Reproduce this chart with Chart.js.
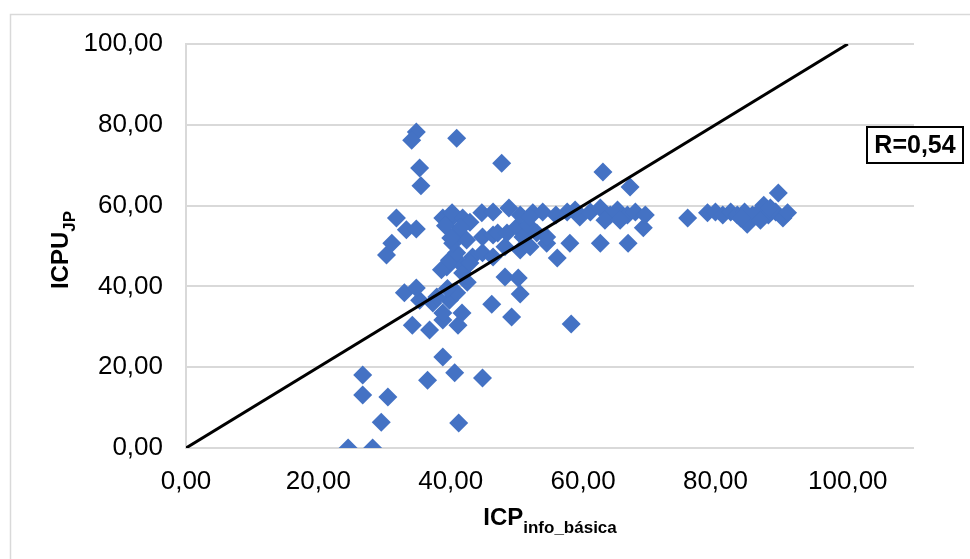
<!DOCTYPE html>
<html>
<head>
<meta charset="utf-8">
<script src="https://cdn.jsdelivr.net/npm/chart.js@4.4.0/dist/chart.umd.min.js"></script>
<style>
  html, body { margin: 0; padding: 0; background: #fff; }
  #wrap { width: 970px; height: 559px; position: relative; }
</style>
</head>
<body>
<div id="wrap"><canvas id="chart"></canvas></div>
<script>
// ICP_info_básica (x) and ICPU_JP (y)
const icpInfo = [
  24.5, 28.2, 26.7, 26.7, 30.5, 29.5, 36.5, 38.8, 40.6, 44.8, 41.2,
  34.2, 36.8, 41.1, 38.8, 41.7, 38.8, 35.3, 37.3, 33.0, 34.8, 39.8, 40.9, 46.2, 49.2, 58.2,
  48.2, 50.2, 50.5, 39.4, 41.4, 43.3, 38.6, 39.8, 40.9, 41.8, 42.9, 44.8, 46.4, 48.2, 50.5,
  52.0, 56.1, 30.3, 31.1, 33.3, 34.8, 40.3, 40.9, 42.4, 44.8, 46.4, 47.1, 48.5, 50.0, 50.9,
  51.7, 53.0, 54.5, 54.5, 58.0, 62.6, 66.8, 69.1, 31.8, 38.8, 39.8, 40.2, 41.8, 44.7, 46.4,
  48.8, 50.5, 52.4, 53.9, 57.6, 59.5, 61.1, 62.6, 64.1, 65.2, 66.7, 67.9, 69.4, 55.9, 58.8,
  63.3, 65.6, 42.9, 52.0, 34.8, 34.1, 40.9, 35.3, 35.5, 47.7, 63.0, 67.1, 75.8, 78.8, 80.0,
  81.1, 82.3, 83.3, 84.4, 84.8, 85.6, 86.5, 87.3, 88.0, 89.1, 89.5, 90.2, 90.9, 83.8, 86.8,
  88.3, 37.9, 39.5, 42.5, 40.0, 41.5, 39.2
];
const icpuJp = [
  0.0, 0.0, 18.1, 13.1, 12.6, 6.4, 16.8, 22.5, 18.6, 17.3, 6.2,
  30.4, 29.2, 30.4, 31.7, 33.4, 33.4, 36.6, 35.9, 38.4, 39.6, 36.6, 38.4, 35.6, 32.4, 30.7,
  42.3, 42.1, 38.1, 44.8, 45.8, 47.3, 44.1, 46.5, 48.3, 43.3, 45.8, 48.3, 47.3, 49.8, 49.0,
  49.8, 47.0, 47.8, 50.7, 54.0, 54.2, 50.7, 53.2, 51.5, 52.2, 52.7, 53.2, 53.2, 54.7, 52.2,
  55.2, 53.2, 50.7, 52.2, 50.7, 50.7, 50.7, 54.5, 56.9, 56.9, 56.4, 58.2, 56.9, 58.2, 58.4,
  59.4, 57.7, 58.2, 58.4, 58.4, 57.2, 58.4, 59.4, 57.7, 58.9, 57.7, 58.4, 57.7, 57.7, 58.9,
  56.4, 56.4, 55.9, 57.2, 78.2, 76.2, 76.7, 69.3, 64.9, 70.5, 68.3, 64.6, 56.9, 58.2, 58.4,
  57.7, 58.4, 57.7, 58.4, 55.4, 57.7, 58.4, 60.1, 57.7, 58.4, 63.1, 56.9, 58.2, 56.9, 56.4,
  59.4, 37.4, 39.5, 41.0, 52.0, 54.5, 55.0
];
const lineX = [0, 100];
const lineY = [0, 100];
const xTicks = [0, 20, 40, 60, 80, 100];
const yTicks = [0, 20, 40, 60, 80, 100];
const xTitle = ["ICP", "info_básica"];
const yTitle = ["ICPU", "JP"];
const rLabel = "R=0,54";

const FONT = '"Liberation Sans", Arial, sans-serif';
const fmt = v => Number(v).toFixed(2).replace('.', ',');

const extras = {
  id: 'extras',
  beforeDraw(chart) {
    const ctx = chart.ctx;
    ctx.save();
    ctx.fillStyle = '#fff';
    ctx.fillRect(0, 0, chart.width, chart.height);
    ctx.strokeStyle = '#d9d9d9';
    ctx.lineWidth = 1.5;
    ctx.strokeRect(10.5, 14.5, chart.width + 10, chart.height + 10);
    ctx.restore();
  },
  afterDraw(chart) {
    const ctx = chart.ctx;
    const a = chart.chartArea;
    ctx.save();
    ctx.fillStyle = '#000';
    ctx.textBaseline = 'alphabetic';
    ctx.textAlign = 'left';

    // x axis title with subscript
    ctx.font = 'bold 24px ' + FONT;
    const xw1 = ctx.measureText(xTitle[0]).width;
    ctx.font = 'bold 17px ' + FONT;
    const xw2 = ctx.measureText(xTitle[1]).width;
    let x0 = (a.left + a.right) / 2 - (xw1 + xw2) / 2;
    ctx.font = 'bold 24px ' + FONT;
    ctx.fillText(xTitle[0], x0, 525);
    ctx.font = 'bold 17px ' + FONT;
    ctx.fillText(xTitle[1], x0 + xw1, 533);

    // y axis title with subscript, rotated
    ctx.save();
    ctx.translate(68, (a.top + a.bottom) / 2 + 4);
    ctx.rotate(-Math.PI / 2);
    ctx.font = 'bold 24px ' + FONT;
    const yw1 = ctx.measureText(yTitle[0]).width;
    ctx.font = 'bold 17px ' + FONT;
    const yw2 = ctx.measureText(yTitle[1]).width;
    const y0 = -(yw1 + yw2) / 2;
    ctx.font = 'bold 24px ' + FONT;
    ctx.fillText(yTitle[0], y0, 0);
    ctx.font = 'bold 17px ' + FONT;
    ctx.fillText(yTitle[1], y0 + yw1, 7);
    ctx.restore();

    // R label box
    ctx.lineWidth = 2;
    ctx.strokeStyle = '#000';
    ctx.strokeRect(867, 127, 96, 36);
    ctx.font = 'bold 25px ' + FONT;
    ctx.textAlign = 'center';
    ctx.textBaseline = 'middle';
    ctx.fillText(rLabel, 915, 146);
    ctx.restore();
  }
};

new Chart(document.getElementById('chart'), {
  type: 'scatter',
  data: {
    datasets: [
      {
        label: 'Linha',
        data: lineX.map((x, i) => ({ x: x, y: lineY[i] })),
        showLine: true,
        borderColor: '#000',
        borderWidth: 3,
        pointRadius: 0,
        order: 0
      },
      {
        label: 'ICPU',
        data: icpInfo.map((x, i) => ({ x: x, y: icpuJp[i] })),
        pointStyle: 'rectRot',
        pointRadius: 9.5,
        pointHoverRadius: 9.5,
        backgroundColor: '#4472C4',
        borderColor: '#4472C4',
        borderWidth: 0,
        order: 1
      }
    ]
  },
  options: {
    responsive: true,
    maintainAspectRatio: false,
    animation: false,
    layout: { padding: { top: 44, right: 56, left: 0, bottom: 0 } },
    plugins: {
      legend: { display: false },
      tooltip: { enabled: false }
    },
    scales: {
      x: {
        type: 'linear',
        min: 0,
        max: 110,
        afterBuildTicks: s => { s.ticks = xTicks.map(v => ({ value: v })); },
        afterFit: s => { s.height = 111; },
        grid: { display: false, drawTicks: false },
        border: { display: false },
        ticks: {
          padding: 18,
          color: '#000',
          font: { family: FONT, size: 26 },
          maxRotation: 0,
          callback: v => fmt(v)
        }
      },
      y: {
        type: 'linear',
        min: 0,
        max: 100,
        afterBuildTicks: s => { s.ticks = yTicks.map(v => ({ value: v })); },
        afterFit: s => { s.width = 186; },
        grid: { color: '#d9d9d9', lineWidth: 2, drawTicks: false },
        border: { display: true, color: '#d9d9d9', width: 2 },
        ticks: {
          padding: 23,
          color: '#000',
          font: { family: FONT, size: 26 },
          callback: v => fmt(v)
        }
      }
    }
  },
  plugins: [extras]
});
</script>
</body>
</html>
